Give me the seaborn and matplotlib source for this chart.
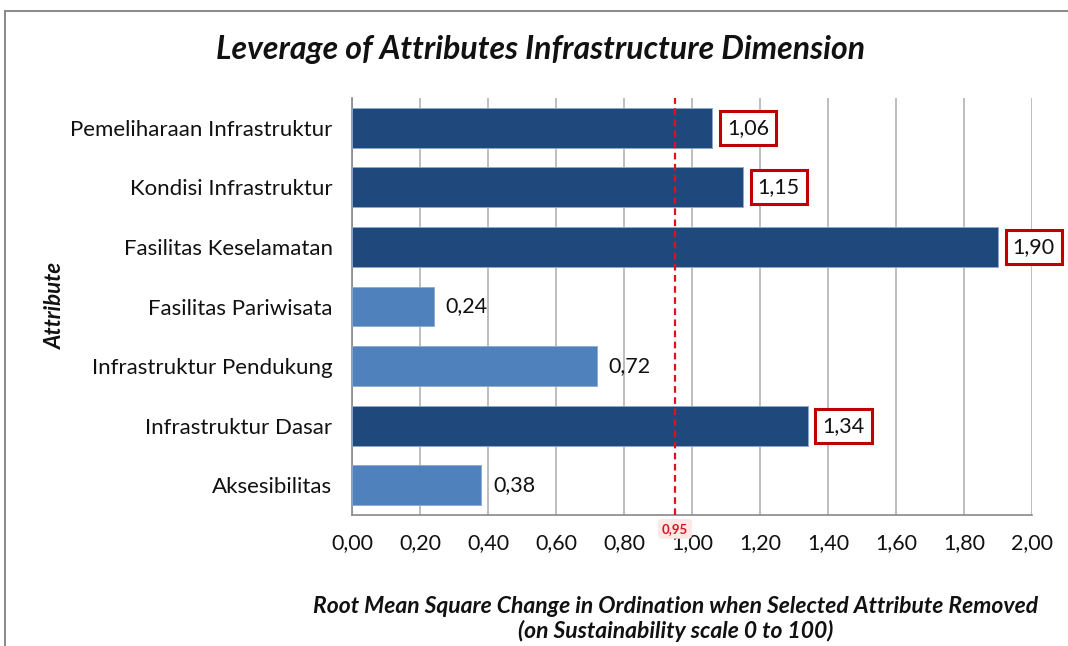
import numpy as np
import pandas as pd
import matplotlib.pyplot as plt
import seaborn as sns
from matplotlib.patches import Rectangle

attributes = ["Pemeliharaan Infrastruktur", "Kondisi Infrastruktur", "Fasilitas Keselamatan",
              "Fasilitas Pariwisata", "Infrastruktur Pendukung", "Infrastruktur Dasar", "Aksesibilitas"]
rms_change = [1.06, 1.15, 1.90, 0.24, 0.72, 1.34, 0.38]
threshold = 0.95
x_ticks = [0.0, 0.2, 0.4, 0.6, 0.8, 1.0, 1.2, 1.4, 1.6, 1.8, 2.0]

dark = "#1F497D"
light = "#4F81BD"
txt_col = "#111111"

df = pd.DataFrame({"Attribute": attributes, "RMS": rms_change})
df["lev"] = np.where(df["RMS"] > threshold, "high", "low")

sns.set_theme(style="white")
plt.rcParams['font.family'] = ['Lato', 'DejaVu Sans']
plt.rcParams['text.color'] = txt_col
plt.rcParams['xtick.color'] = txt_col
plt.rcParams['ytick.color'] = txt_col

fig = plt.figure(figsize=(10.68, 6.46), dpi=100)
ax = fig.add_axes([352/1068, 1-515/646, 680/1068, 417/646])

sns.barplot(data=df, x="RMS", y="Attribute", hue="lev", palette={"high": dark, "low": light},
            orient="h", width=0.67, dodge=False, legend=False, ax=ax, zorder=3,
            saturation=1, edgecolor="#8fa9cf", linewidth=0.6)

ax.set_xlim(0, 2.0)
ax.set_ylim(6.5, -0.5)
ax.set_xticks(x_ticks)
ax.set_xticklabels([f"{t:.2f}".replace(".", ",") for t in x_ticks], fontsize=15.5)
ax.tick_params(axis="y", labelsize=16, length=0, pad=14)
ax.set_yticks(range(len(attributes)))
ax.set_yticks(np.arange(-0.5, 7, 1), minor=True)
ax.tick_params(axis="y", which="minor", length=7, color="#888888", direction="out")
ax.tick_params(axis="x", length=7, color="#888888", direction="out", pad=6)
ax.grid(axis="x", color="#b3b3b3", linewidth=1.2, zorder=0)
for s in ["top", "right"]:
    ax.spines[s].set_visible(False)
for s in ["left", "bottom"]:
    ax.spines[s].set_color("#888888")
    ax.spines[s].set_linewidth(1.2)
ax.set_xlabel("")
ax.set_ylabel("")

for i, v in enumerate(rms_change):
    txt = f"{v:.2f}".replace(".", ",")
    if v > threshold:
        ax.text(v + 0.043, i, txt, va="center", ha="left", fontsize=15.5, zorder=5,
                bbox=dict(boxstyle="square,pad=0.33", fc="white", ec="#C00000", lw=2.2))
    else:
        ax.text(v + 0.035, i, txt, va="center", ha="left", fontsize=15.5, zorder=5)

ax.axvline(threshold, color="#D9141E", linestyle=(0, (3, 2)), linewidth=1.6, zorder=4)
ax.text(threshold, 6.63, "0,95", ha="center", va="top",
        fontsize=9.5, fontweight="bold", color="#D9141E", zorder=6,
        bbox=dict(boxstyle="round,pad=0.3", fc="#fde8e8", ec="none"))

fig.text(541/1068, 1-50/646, "Leverage of Attributes Infrastructure Dimension",
         ha="center", va="center", fontsize=23, fontweight="bold", fontstyle="italic")
fig.text(55/1068, 1-305/646, "Attribute", rotation=90, ha="center", va="center",
         fontsize=16, fontweight="bold", fontstyle="italic")
fig.text(676/1068, 1-619/646,
         "Root Mean Square Change in Ordination when Selected Attribute Removed\n(on Sustainability scale 0 to 100)",
         ha="center", va="center", fontsize=16.5, fontweight="bold", fontstyle="italic", linespacing=1.15)

fig.patches.append(Rectangle((5/1068, -0.2), 1.2, 1.2 - 11/646, transform=fig.transFigure,
                             fill=False, ec="#8c8c8c", lw=1.5))

fig.savefig("out.png", dpi=100)
